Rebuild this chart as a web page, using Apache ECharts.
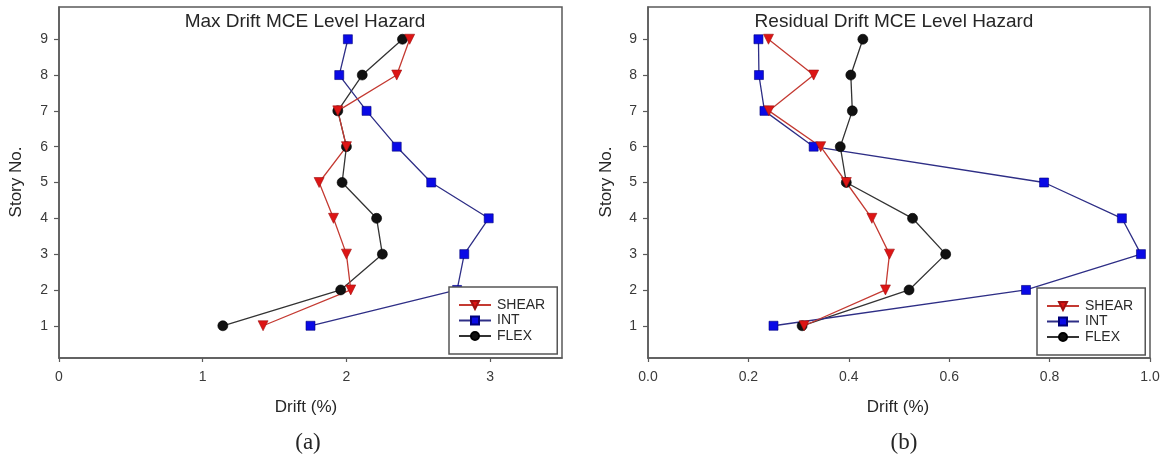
<!DOCTYPE html>
<html>
<head>
<meta charset="utf-8">
<title>Story drift profiles</title>
<script src="https://cdn.jsdelivr.net/npm/echarts@6/dist/echarts.min.js"></script>
<style>
  html, body { margin: 0; padding: 0; background: #ffffff; }
  #chart { width: 1164px; height: 462px; }
</style>
</head>
<body>
<div id="chart"></div>
<script>
// Story levels (y axis)
const stories = [1, 2, 3, 4, 5, 6, 7, 8, 9];

// Max drift (%) per story, MCE level hazard
const maxShear = [1.42, 2.03, 2.00, 1.91, 1.81, 2.00, 1.94, 2.35, 2.44];
const maxInt   = [1.75, 2.77, 2.82, 2.99, 2.59, 2.35, 2.14, 1.95, 2.01];
const maxFlex  = [1.14, 1.96, 2.25, 2.21, 1.97, 2.00, 1.94, 2.11, 2.39];

// Residual drift (%) per story, MCE level hazard
const resShear = [0.311, 0.473, 0.481, 0.446, 0.395, 0.344, 0.241, 0.330, 0.240];
const resInt   = [0.250, 0.753, 0.982, 0.944, 0.789, 0.330, 0.232, 0.221, 0.220];
const resFlex  = [0.307, 0.520, 0.593, 0.527, 0.395, 0.383, 0.407, 0.404, 0.428];

// Tick values
const storyTicks = [1, 2, 3, 4, 5, 6, 7, 8, 9];
const maxDriftTicks = [0, 1, 2, 3];
const resDriftTicks = [0, 0.2, 0.4, 0.6, 0.8, 1.0];

const seriesNames = ['SHEAR', 'INT', 'FLEX'];
const panelTitles = ['Max Drift MCE Level Hazard', 'Residual Drift MCE Level Hazard'];
const panelTags = ['(a)', '(b)'];
const xName = 'Drift (%)';
const yName = 'Story No.';

const FONT = '"Liberation Sans", Arial, sans-serif';
const AXIS_COLOR = '#5a5a5a';
const LABEL_COLOR = '#3a3a3a';

const styles = {
  SHEAR: { line: '#c43a32', fill: '#dd1515', border: '#a01010', symbol: 'triangle', size: 10, rotate: 180 },
  INT:   { line: '#2e2e86', fill: '#0a0ae6', border: '#00007a', symbol: 'rect', size: 9, rotate: 0 },
  FLEX:  { line: '#333333', fill: '#111111', border: '#000000', symbol: 'circle', size: 10, rotate: 0 }
};

const pairs = (xs) => xs.map((v, i) => [v, stories[i]]);

function makeSeries(name, values, idx) {
  const s = styles[name];
  return {
    name: name,
    type: 'line',
    xAxisIndex: idx,
    yAxisIndex: idx,
    data: pairs(values),
    symbol: s.symbol,
    symbolSize: s.size,
    symbolRotate: s.rotate,
    showAllSymbol: true,
    animation: false,
    lineStyle: { color: s.line, width: 1.3 },
    itemStyle: { color: s.fill, borderColor: s.border, borderWidth: 0.6 },
    emphasis: { disabled: true }
  };
}

const grids = [
  { left: 59, top: 7, width: 503, height: 351 },
  { left: 648, top: 7, width: 502, height: 351 }
];

function xAxis(idx, max, ticks, fmt) {
  return {
    type: 'value',
    gridIndex: idx,
    min: 0,
    max: max,
    axisLine: { show: true, lineStyle: { color: AXIS_COLOR, width: 1.5 } },
    axisTick: { show: true, inside: false, length: 4, customValues: ticks, lineStyle: { color: AXIS_COLOR, width: 1.2 } },
    axisLabel: { customValues: ticks, margin: 12, fontSize: 14, color: LABEL_COLOR, fontFamily: FONT, formatter: fmt },
    splitLine: { show: false }
  };
}

function yAxis(idx) {
  return {
    type: 'value',
    gridIndex: idx,
    min: 0.1,
    max: 9.9,
    axisLine: { show: true, lineStyle: { color: AXIS_COLOR, width: 1.5 } },
    axisTick: { show: true, inside: false, length: 5, customValues: storyTicks, lineStyle: { color: AXIS_COLOR, width: 1.2 } },
    axisLabel: { customValues: storyTicks, margin: 11, fontSize: 14, color: LABEL_COLOR, fontFamily: FONT },
    splitLine: { show: false }
  };
}

function legend(left, top) {
  return {
    orient: 'vertical',
    left: left,
    top: top,
    data: seriesNames,
    itemWidth: 32,
    itemHeight: 10,
    itemGap: 1.5,
    padding: [11, 12, 11, 9],
    borderColor: '#555555',
    borderWidth: 1.5,
    backgroundColor: '#ffffff',
    selectedMode: false,
    textStyle: { fontSize: 14, lineHeight: 14, color: '#2a2a2a', fontFamily: FONT, padding: [0, 0, 0, 1] }
  };
}

function text(str, x, y, font, rotation) {
  return {
    type: 'text',
    x: x,
    y: y,
    rotation: rotation || 0,
    silent: true,
    style: { text: str, font: font, fill: '#262626', textAlign: 'center', textVerticalAlign: 'middle' }
  };
}

const option = {
  backgroundColor: '#ffffff',
  animation: false,
  grid: grids.map(g => Object.assign({ show: true, borderColor: AXIS_COLOR, borderWidth: 1.5, backgroundColor: 'transparent' }, g)),
  xAxis: [
    xAxis(0, 3.5, maxDriftTicks, v => String(v)),
    xAxis(1, 1.0, resDriftTicks, v => v.toFixed(1))
  ],
  yAxis: [yAxis(0), yAxis(1)],
  legend: [legend(449, 287), legend(1037, 288)],
  series: [
    makeSeries('FLEX', maxFlex, 0),
    makeSeries('INT', maxInt, 0),
    makeSeries('SHEAR', maxShear, 0),
    makeSeries('FLEX', resFlex, 1),
    makeSeries('INT', resInt, 1),
    makeSeries('SHEAR', resShear, 1)
  ],
  graphic: [
    text(panelTitles[0], 305, 22, '19px ' + FONT),
    text(panelTitles[1], 894, 22, '19px ' + FONT),
    text(yName, 16, 182, '17px ' + FONT, Math.PI / 2),
    text(yName, 606, 182, '17px ' + FONT, Math.PI / 2),
    text(xName, 306, 407, '17px ' + FONT),
    text(xName, 898, 407, '17px ' + FONT),
    Object.assign(text(panelTags[0], 308, 443, '23px "Liberation Serif", "Times New Roman", serif'), {}),
    Object.assign(text(panelTags[1], 904, 443, '23px "Liberation Serif", "Times New Roman", serif'), {})
  ]
};

const chart = echarts.init(document.getElementById('chart'), null, { renderer: 'canvas' });
chart.setOption(option);
</script>
</body>
</html>
